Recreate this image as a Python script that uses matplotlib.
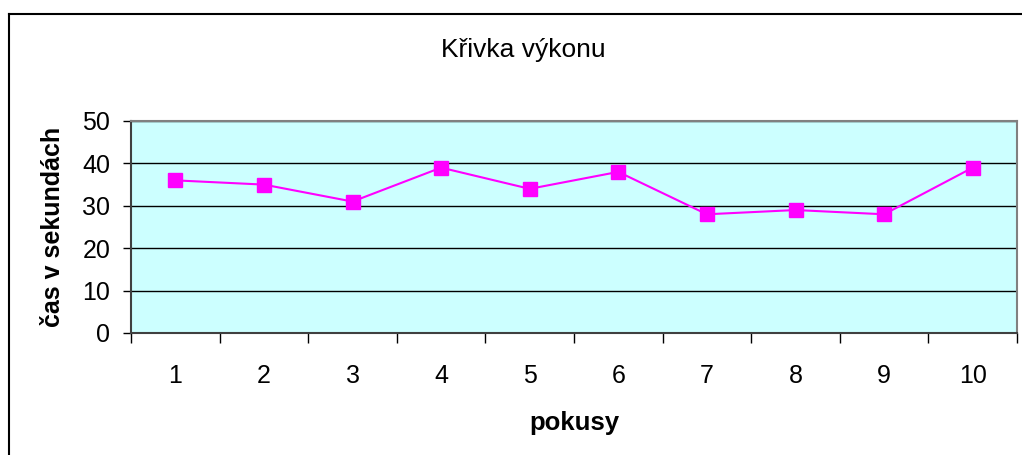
import matplotlib.pyplot as plt
from matplotlib.lines import Line2D

plt.rcParams['font.family'] = ['Liberation Sans', 'DejaVu Sans']

pokusy = ['1', '2', '3', '4', '5', '6', '7', '8', '9', '10']
cas = [36, 35, 31, 39, 34, 38, 28, 29, 28, 39]

W, H = 1022, 455
fig = plt.figure(figsize=(W / 100, H / 100), dpi=100)

# outer chart frame (only left and top edges visible in the crop)
fig.add_artist(Line2D([9 / W, 9 / W], [0, 1 - 14 / H], color='black', lw=1.5))
fig.add_artist(Line2D([9 / W, 1], [1 - 14 / H, 1 - 14 / H], color='black', lw=1.5))

ax = fig.add_axes([131 / W, 1 - 333 / H, (1017 - 131) / W, (333 - 121) / H])
ax.set_facecolor('#ccffff')

x = range(len(cas))
ax.plot(x, cas, color='#ff00ff', lw=1.5, marker='s', markersize=9.5,
        markeredgecolor='#ff00ff', zorder=3)

ax.set_xlim(-0.5, len(cas) - 0.5)
ax.set_ylim(0, 50)
ax.set_yticks(range(0, 51, 10))
ax.yaxis.grid(True, color='black', lw=1)
ax.set_axisbelow(True)

ax.set_xticks([i - 0.5 for i in range(len(cas) + 1)])
ax.set_xticklabels([])
ax.set_xticks(list(x), minor=True)
ax.set_xticklabels(pokusy, minor=True)
ax.tick_params(axis='x', which='major', length=7, width=1, direction='out')
ax.tick_params(axis='x', which='minor', length=0, pad=22, labelsize=18)
ax.tick_params(axis='y', length=6, width=1, labelsize=18, pad=9)

for s in ax.spines.values():
    s.set_color('#808080')
    s.set_linewidth(1.5)
ax.spines['left'].set_color('#404040')
ax.spines['bottom'].set_color('#404040')

ax.set_xlabel('pokusy', fontsize=18.5, fontweight='bold', labelpad=17)
ax.set_ylabel('čas v sekundách', fontsize=18, fontweight='bold', labelpad=12)
fig.text(523 / W, 1 - 50 / H, 'Křivka výkonu', fontsize=19, ha='center', va='center')

fig.savefig('out.png', dpi=100)
